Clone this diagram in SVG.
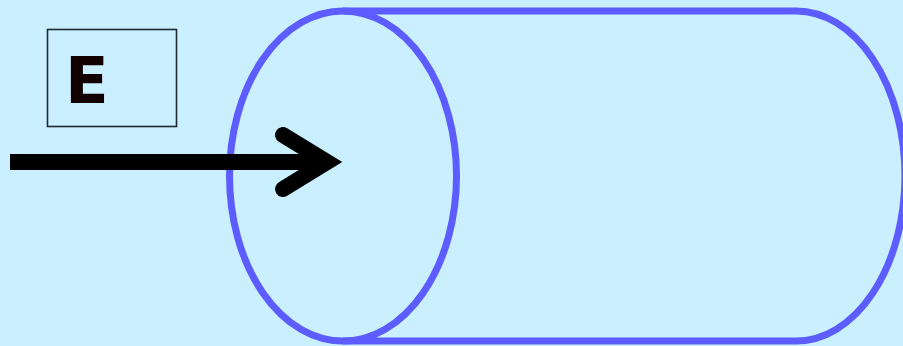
<svg xmlns="http://www.w3.org/2000/svg" width="903" height="346" viewBox="0 0 903 346">
<style>
.cyl{fill:none;stroke:#5C5CFF;stroke-width:7}
.lbl{font-family:"DejaVu Sans",sans-serif;font-weight:bold;font-size:64px;fill:#120000}
.arrow{fill:none;stroke:#000;stroke-width:16}
</style>
<rect x="0" y="0" width="903" height="346" fill="#CAF0FF"/>
<g id="cylinder">
<path class="cyl" d="M343,11 H796 A109,165 0 0 1 796,341 H343"/>
<ellipse class="cyl" cx="343" cy="176" rx="113.5" ry="165"/>
</g>
<g id="label-E">
<rect x="47.5" y="29.5" width="129" height="97" fill="none" stroke="#1E2A30" stroke-width="1.6"/>
<text class="lbl" x="65" y="102.5">E</text>
</g>
<g id="connectors">
<line class="arrow" x1="10" y1="162" x2="322" y2="162"/>
<polyline class="arrow" points="283,135 327,162 283,189" stroke-linecap="round" stroke-linejoin="miter" stroke-miterlimit="10"/>
</g>
</svg>
